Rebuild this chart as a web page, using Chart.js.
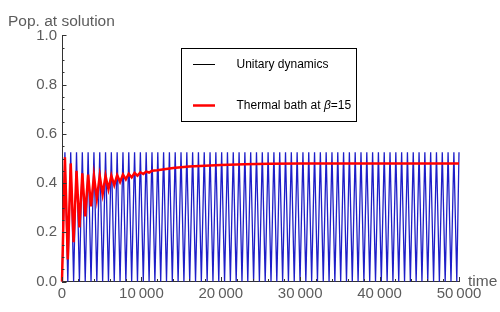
<!DOCTYPE html>
<html>
<head>
<meta charset="utf-8">
<script src="https://cdn.jsdelivr.net/npm/chart.js@4/dist/chart.umd.min.js"></script>
<style>
html,body{margin:0;padding:0;background:#fff;}
#wrap{width:500px;height:312px;position:relative;}
</style>
</head>
<body>
<div id="wrap"><canvas id="c" width="500" height="312"></canvas></div>
<script>
// ---- data ----
const xTickValues = [0, 10000, 20000, 30000, 40000, 50000];
const xTickLabels = ['0', '10\u2009000', '20\u2009000', '30\u2009000', '40\u2009000', '50\u2009000'];
const yTickValues = [0, 0.2, 0.4, 0.6, 0.8, 1.0];
const yTickLabels = ['0.0', '0.2', '0.4', '0.6', '0.8', '1.0'];

// Unitary dynamics: alternating troughs / peaks
const unitaryTimes = [0, 366, 731, 1097, 1462, 1828, 2194, 2559, 2925, 3290, 3656, 4022, 4387, 4753, 5118, 5484, 5850, 6215, 6581, 6946, 7312, 7678, 8043, 8409, 8774, 9140, 9506, 9871, 10237, 10602, 10968, 11334, 11699, 12065, 12430, 12796, 13162, 13527, 13893, 14258, 14624, 14990, 15355, 15721, 16086, 16452, 16818, 17183, 17549, 17914, 18280, 18646, 19011, 19377, 19742, 20108, 20474, 20839, 21205, 21570, 21936, 22302, 22667, 23033, 23398, 23764, 24130, 24495, 24861, 25226, 25592, 25958, 26323, 26689, 27054, 27420, 27786, 28151, 28517, 28882, 29248, 29614, 29979, 30345, 30710, 31076, 31442, 31807, 32173, 32538, 32904, 33270, 33635, 34001, 34366, 34732, 35098, 35463, 35829, 36194, 36560, 36926, 37291, 37657, 38022, 38388, 38754, 39119, 39485, 39850, 40216, 40582, 40947, 41313, 41678, 42044, 42410, 42775, 43141, 43506, 43872, 44238, 44603, 44969, 45334, 45700, 46066, 46431, 46797, 47162, 47528, 47894, 48259, 48625, 48990, 49356, 49722, 50000];
const unitaryValues = [0, 0.525, 0, 0.525, 0, 0.525, 0, 0.525, 0, 0.525, 0, 0.525, 0, 0.525, 0, 0.525, 0, 0.525, 0, 0.525,
  0, 0.525, 0, 0.525, 0, 0.525, 0, 0.525, 0, 0.525, 0, 0.525, 0, 0.525, 0, 0.525, 0, 0.525, 0, 0.525,
  0, 0.525, 0, 0.525, 0, 0.525, 0, 0.525, 0, 0.525, 0, 0.525, 0, 0.525, 0, 0.525, 0, 0.525, 0, 0.525,
  0, 0.525, 0, 0.525, 0, 0.525, 0, 0.525, 0, 0.525, 0, 0.525, 0, 0.525, 0, 0.525, 0, 0.525, 0, 0.525,
  0, 0.525, 0, 0.525, 0, 0.525, 0, 0.525, 0, 0.525, 0, 0.525, 0, 0.525, 0, 0.525, 0, 0.525, 0, 0.525,
  0, 0.525, 0, 0.525, 0, 0.525, 0, 0.525, 0, 0.525, 0, 0.525, 0, 0.525, 0, 0.525, 0, 0.525, 0, 0.525,
  0, 0.525, 0, 0.525, 0, 0.525, 0, 0.525, 0, 0.525, 0, 0.525, 0, 0.525, 0, 0.525, 0, 0.525, 0, 0.525,
  0, 0.525, 0, 0.525, 0, 0.525, 0, 0.45];

// Thermal bath at beta=15
const thermalTimes = [0, 367, 731, 1097, 1462, 1828, 2194, 2559, 2925, 3290, 3656, 4022, 4387, 4753, 5118, 5484, 5850, 6215, 6581, 6946, 7312, 7678, 8043, 8409, 8774, 9140, 9506, 9871, 10237, 10602, 10968, 11334, 12000, 14000, 16000, 18000, 20000, 23000, 26000, 30000, 40000, 50000];
const thermalValues = [0, 0.505, 0.09, 0.48, 0.16, 0.45, 0.22, 0.44, 0.265, 0.435, 0.305, 0.43, 0.335, 0.43, 0.355, 0.43, 0.375, 0.43, 0.392, 0.432, 0.405, 0.435, 0.415, 0.438, 0.423, 0.441, 0.43, 0.444, 0.437, 0.447, 0.443, 0.45, 0.452, 0.461, 0.467, 0.471, 0.474, 0.477, 0.479, 0.48, 0.48, 0.48];

const seriesNames = ['Unitary dynamics', 'Thermal bath at '];

// ---- chart ----
const FONT = '"Liberation Sans", Arial, sans-serif';
const GRAY = '#5c5c5c';
const AXIS = '#333333';

const toXY = (ts, vs) => ts.map((t, i) => ({x: t, y: vs[i]}));

const decorPlugin = {
  id: 'decor',
  afterDraw(chart) {
    const ctx = chart.ctx;
    const xs = chart.scales.x, ys = chart.scales.y;
    const ca = chart.chartArea;
    ctx.save();
    // inside ticks
    ctx.strokeStyle = AXIS;
    ctx.lineWidth = 1;
    ctx.beginPath();
    for (let v = 0; v <= 1.0001; v += 0.05) {
      const y = Math.round(ys.getPixelForValue(v)) + 0.5;
      const major = Math.abs(v / 0.2 - Math.round(v / 0.2)) < 1e-6;
      ctx.moveTo(ca.left, y);
      ctx.lineTo(ca.left + (major ? 4.5 : 2.5), y);
    }
    for (let v = 0; v <= 50000; v += 2000) {
      const x = Math.round(xs.getPixelForValue(v)) + 0.5;
      const major = v % 10000 === 0;
      ctx.moveTo(x, ca.bottom);
      ctx.lineTo(x, ca.bottom - (major ? 4.5 : 2.5));
    }
    ctx.stroke();

    // axis titles
    ctx.fillStyle = GRAY;
    ctx.font = '15.5px ' + FONT;
    ctx.textBaseline = 'alphabetic';
    ctx.textAlign = 'left';
    ctx.fillText('Pop. at solution', 8, 26);
    ctx.textBaseline = 'middle';
    ctx.fillText('time', 468, 282);

    // legend
    const bx = 181.5, by = 48.5, bw = 175, bh = 73;
    ctx.fillStyle = '#fff';
    ctx.fillRect(bx, by, bw, bh);
    ctx.strokeStyle = '#000';
    ctx.lineWidth = 1;
    ctx.strokeRect(bx, by, bw, bh);

    ctx.beginPath();
    ctx.strokeStyle = '#000';
    ctx.lineWidth = 1;
    ctx.moveTo(193, 64.5); ctx.lineTo(215, 64.5);
    ctx.stroke();
    ctx.beginPath();
    ctx.strokeStyle = '#ff0000';
    ctx.lineWidth = 2.5;
    ctx.moveTo(193, 105.5); ctx.lineTo(215, 105.5);
    ctx.stroke();

    ctx.fillStyle = '#000';
    ctx.font = '12px ' + FONT;
    ctx.textBaseline = 'middle';
    ctx.fillText(seriesNames[0], 236.5, 64.5);
    let tx = 236.5;
    ctx.fillText(seriesNames[1], tx, 105.5);
    tx += ctx.measureText(seriesNames[1]).width;
    ctx.font = 'italic 12px ' + FONT;
    ctx.fillText('\u03B2', tx, 105.5);
    tx += ctx.measureText('\u03B2').width;
    ctx.font = '12px ' + FONT;
    ctx.fillText('=15', tx, 105.5);
    ctx.restore();
  }
};

new Chart(document.getElementById('c'), {
  type: 'scatter',
  data: {
    datasets: [
      {
        label: seriesNames[0],
        data: toXY(unitaryTimes, unitaryValues),
        showLine: true,
        borderColor: 'rgb(30,30,200)',
        borderWidth: 1.3,
        pointRadius: 0,
        tension: 0,
        clip: 4,
        order: 1
      },
      {
        label: seriesNames[1],
        data: toXY(thermalTimes, thermalValues),
        showLine: true,
        borderColor: '#ff0000',
        borderWidth: 2.5,
        pointRadius: 0,
        tension: 0,
        clip: 4,
        order: 0
      }
    ]
  },
  options: {
    responsive: false,
    animation: false,
    events: [],
    layout: {padding: {left: 0, top: 35.5, right: 41, bottom: 0}},
    plugins: {legend: {display: false}, tooltip: {enabled: false}},
    scales: {
      x: {
        type: 'linear',
        min: 0, max: 50000,
        afterBuildTicks: s => { s.ticks = xTickValues.map(v => ({value: v})); },
        afterFit: s => { s.height = 312 - 281.5; },
        ticks: {
          callback: (v, i) => xTickLabels[i],
          font: {family: FONT, size: 15},
          color: GRAY,
          padding: 3,
          maxRotation: 0,
          autoSkip: false
        },
        grid: {drawOnChartArea: false, drawTicks: false},
        border: {display: true, color: AXIS, width: 1}
      },
      y: {
        type: 'linear',
        min: 0, max: 1,
        afterBuildTicks: s => { s.ticks = yTickValues.map(v => ({value: v})); },
        afterFit: s => { s.width = 62; },
        ticks: {
          callback: (v, i) => yTickLabels[i],
          font: {family: FONT, size: 15},
          color: GRAY,
          padding: 5,
          autoSkip: false
        },
        grid: {drawOnChartArea: false, drawTicks: false},
        border: {display: true, color: AXIS, width: 1}
      }
    }
  },
  plugins: [decorPlugin]
});
</script>
</body>
</html>
